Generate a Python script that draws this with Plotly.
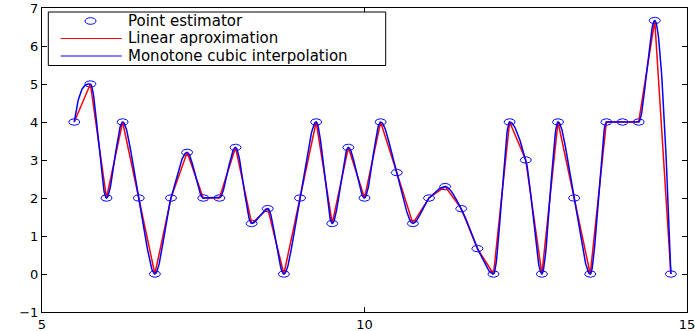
import numpy as np
import plotly.graph_objects as go

# ---- data ----
x_points = [5.5, 5.75, 6.0, 6.25, 6.5, 6.75, 7.0, 7.25, 7.5, 7.75,
            8.0, 8.25, 8.5, 8.75, 9.0, 9.25, 9.5, 9.75, 10.0, 10.25,
            10.5, 10.75, 11.0, 11.25, 11.5, 11.75, 12.0, 12.25, 12.5, 12.75,
            13.0, 13.25, 13.5, 13.75, 14.0, 14.25, 14.5, 14.75]
y_points = [4, 5, 2, 4, 2, 0, 2, 3.2, 2, 2,
            3.33, 1.33, 1.72, 0, 2, 4, 1.33, 3.33, 2, 4,
            2.67, 1.33, 2, 2.3, 1.72, 0.67, 0, 4, 3, 0,
            4, 2, 0, 4, 4, 4, 6.67, 0]
legend_labels = ["Point estimator", "Linear aproximation", "Monotone cubic interpolation"]
x_ticks = [5, 10, 15]
y_ticks = [-1, 0, 1, 2, 3, 4, 5, 6, 7]

BLUE = "#0000ff"
RED = "#ff0000"
FONT = "DejaVu Sans"

M_L, M_R, M_T, M_B = 42, 8, 8, 19
W, H = 695, 331
PW, PH = W - M_L - M_R, H - M_T - M_B


def pchip_slopes(x, y):
    x = np.asarray(x, float)
    y = np.asarray(y, float)
    h = np.diff(x)
    delta = np.diff(y) / h
    n = len(x)
    d = np.zeros(n)
    for k in range(1, n - 1):
        if delta[k - 1] * delta[k] > 0:
            w1 = 2 * h[k] + h[k - 1]
            w2 = h[k] + 2 * h[k - 1]
            d[k] = (w1 + w2) / (w1 / delta[k - 1] + w2 / delta[k])

    def end(h0, h1, del0, del1):
        d0 = ((2 * h0 + h1) * del0 - h0 * del1) / (h0 + h1)
        if np.sign(d0) != np.sign(del0):
            d0 = 0.0
        elif np.sign(del0) != np.sign(del1) and abs(d0) > abs(3 * del0):
            d0 = 3 * del0
        return d0

    d[0] = end(h[0], h[1], delta[0], delta[1])
    d[-1] = end(h[-1], h[-2], delta[-1], delta[-2])
    return d


def pchip_curve(x, y, per=30):
    x = np.asarray(x, float)
    y = np.asarray(y, float)
    d = pchip_slopes(x, y)
    xs, ys = [], []
    for k in range(len(x) - 1):
        h = x[k + 1] - x[k]
        t = np.linspace(0, 1, per, endpoint=(k == len(x) - 2))
        h00 = 2 * t**3 - 3 * t**2 + 1
        h10 = t**3 - 2 * t**2 + t
        h01 = -2 * t**3 + 3 * t**2
        h11 = t**3 - t**2
        xs.extend(x[k] + t * h)
        ys.extend(h00 * y[k] + h10 * h * d[k] + h01 * y[k + 1] + h11 * h * d[k + 1])
    return xs, ys


# open elliptical markers (the reference's circles are stretched)
ax_r, ay_r = 0.085, 0.085
th = np.linspace(0, 2 * np.pi, 37)
ex, ey = [], []
for xi, yi in zip(x_points, y_points):
    ex.extend(list(xi + ax_r * np.cos(th)) + [None])
    ey.extend(list(yi + ay_r * np.sin(th)) + [None])

cx, cy = pchip_curve(x_points, y_points)

fig = go.Figure()
fig.add_trace(go.Scatter(x=ex, y=ey, mode="lines", name=legend_labels[0],
                         line=dict(color=BLUE, width=1), showlegend=False,
                         hoverinfo="skip"))
fig.add_trace(go.Scatter(x=x_points, y=y_points, mode="lines", name=legend_labels[1],
                         line=dict(color=RED, width=1.5), showlegend=False))
fig.add_trace(go.Scatter(x=cx, y=cy, mode="lines", name=legend_labels[2],
                         line=dict(color=BLUE, width=1.5), showlegend=False))


# ---- hand-built legend box (paper coordinates) ----
def px(xpix):
    return (xpix - M_L) / PW


def py(ypix):
    return 1 - (ypix - M_T) / PH


row_y = [21.0, 38.5, 56.0]
shapes = [
    dict(type="rect", xref="paper", yref="paper", x0=px(48.3), x1=px(385.7),
         y0=py(65.5), y1=py(12), line=dict(color="black", width=1),
         fillcolor="white", layer="above"),
    dict(type="circle", xref="paper", yref="paper", x0=px(85), x1=px(96),
         y0=py(row_y[0] + 3.3), y1=py(row_y[0] - 3.3),
         line=dict(color=BLUE, width=1), layer="above"),
    dict(type="line", xref="paper", yref="paper", x0=px(60.7), x1=px(121.7),
         y0=py(row_y[1]), y1=py(row_y[1]), line=dict(color=RED, width=1.2), layer="above"),
    dict(type="line", xref="paper", yref="paper", x0=px(60.7), x1=px(121.7),
         y0=py(row_y[2]), y1=py(row_y[2]), line=dict(color=BLUE, width=1.2), layer="above"),
]
annotations = []
for lab, yy in zip(legend_labels, row_y):
    annotations.append(dict(text=lab, xref="paper", yref="paper", x=px(127), y=py(yy),
                            xanchor="left", yanchor="middle", showarrow=False,
                            borderpad=0,
                            font=dict(family=FONT, size=15, color="black")))

axis_common = dict(showline=True, linecolor="black", linewidth=1, mirror="ticks",
                   ticks="inside", ticklen=5, tickcolor="black", tickwidth=1,
                   showgrid=False, zeroline=False, ticklabeloverflow="allow",
                   automargin=False,
                   tickfont=dict(family=FONT, size=13, color="black"))

fig.update_layout(
    width=W, height=H,
    margin=dict(l=M_L, r=M_R, t=M_T, b=M_B, autoexpand=False),
    paper_bgcolor="white", plot_bgcolor="white",
    showlegend=False,
    shapes=shapes, annotations=annotations,
    xaxis=dict(range=[5, 15], tickvals=x_ticks, **axis_common),
    yaxis=dict(range=[-1, 7], tickvals=y_ticks, **axis_common),
)

fig.write_html("out.html")
